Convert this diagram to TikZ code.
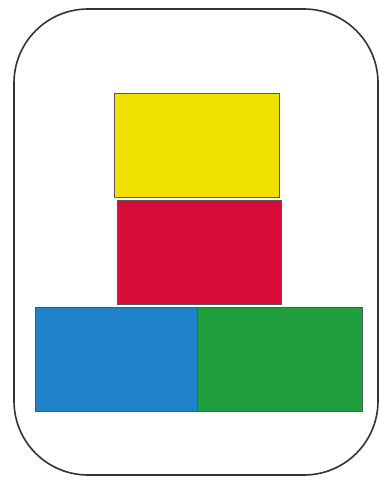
\documentclass[tikz,border=0pt]{standalone}
\usepackage{xcolor}
\usepackage{tikz}
\usetikzlibrary{positioning}
\definecolor{blockyellow}{RGB}{240,225,0}
\definecolor{blockred}{RGB}{215,12,55}
\definecolor{blockblue}{RGB}{32,130,200}
\definecolor{blockgreen}{RGB}{32,160,60}

\begin{document}
\begin{tikzpicture}[
    x=0.5pt, y=-0.5pt,
    block/.style={rectangle, draw=black!65, line width=0.45pt, inner sep=0pt, outer sep=0pt, minimum height=52pt},
    frame/.style={rectangle, draw=black!80, line width=0.8pt, rounded corners=37pt, inner sep=0pt, minimum width=182pt, minimum height=233pt}
]
\useasboundingbox (0,0) rectangle (379,480);
\node[frame] (box) at (196,242) {};
\node[block, fill=blockyellow, minimum width=82.5pt] (top) at (196.5,145) {};
\node[block, fill=blockred, minimum width=82pt] (mid) at (199,252) {};
\node[block, fill=blockblue, minimum width=81pt] (left) at (116,359) {};
\node[block, fill=blockgreen, minimum width=82.5pt] (right) at (279.5,359) {};
\end{tikzpicture}
\end{document}
